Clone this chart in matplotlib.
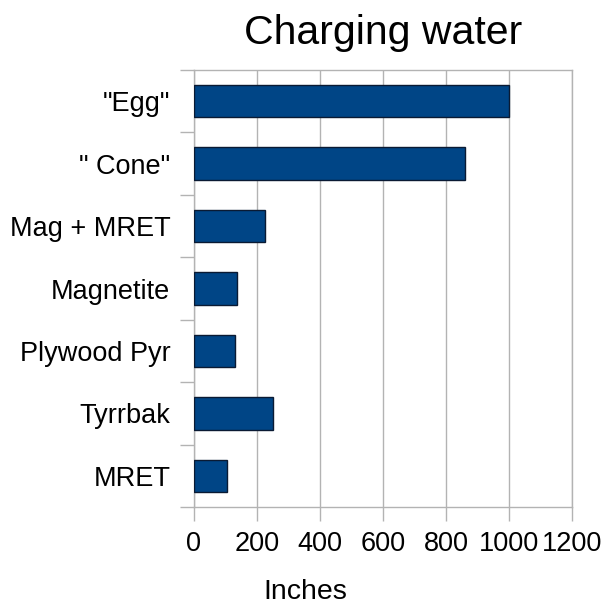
import matplotlib
matplotlib.use("Agg")
import matplotlib.pyplot as plt
import numpy as np

plt.rcParams['font.family'] = ['Liberation Sans', 'DejaVu Sans']

# top to bottom as shown on the chart
categories = ['"Egg"', '" Cone"', 'Mag + MRET', 'Magnetite', 'Plywood Pyr', 'Tyrrbak', 'MRET']
inches = [1000, 860, 225, 136, 131, 252, 105]
x_ticks = [0, 200, 400, 600, 800, 1000, 1200]

bar_color = '#004586'
grid_color = '#b3b3b3'

fig = plt.figure(figsize=(6.04, 6.06), dpi=100)
ax = fig.add_axes([0.321, 0.1634, 0.626, 0.721])

ypos = np.arange(len(categories))[::-1]
ax.barh(ypos, inches, height=0.52, color=bar_color, edgecolor='#0a1a33', linewidth=1.0, zorder=3)

ax.set_xlim(0, 1200)
ax.set_ylim(-0.5, len(categories) - 0.5)
ax.set_xticks(x_ticks)
ax.set_xticklabels([str(t) for t in x_ticks], fontsize=19.5)
ax.xaxis.grid(True, color=grid_color, linewidth=1.0, zorder=0)

# tick marks sit on category boundaries, labels at bar centres
ax.set_yticks(np.arange(-0.5, len(categories), 1.0))
ax.set_yticklabels([])
ax.set_yticks(ypos, minor=True)
ax.set_yticklabels(categories, minor=True, fontsize=19.5)
ax.tick_params(axis='y', which='major', length=10, color=grid_color, width=1.0)
ax.tick_params(axis='y', which='minor', length=0, pad=17)
ax.tick_params(axis='x', length=10, color=grid_color, width=1.0, pad=7)

for side in ax.spines.values():
    side.set_color(grid_color)
    side.set_linewidth(1.0)

ax.set_title('Charging water', fontsize=29.5, pad=19)
fig.text(305 / 604, 1 - 592 / 606, 'Inches', fontsize=20.5, ha='center', va='center')

fig.savefig('out.png', dpi=100)
